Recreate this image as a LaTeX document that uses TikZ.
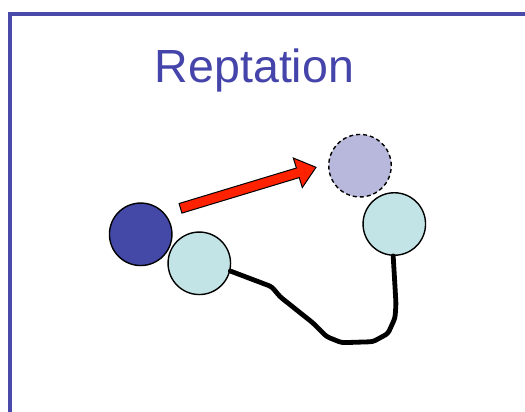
\documentclass[tikz,border=0pt]{standalone}
\usepackage{fontspec}
\setmainfont{Liberation Sans}
\definecolor{frameblue}{HTML}{4A4AAA}
\definecolor{titleblue}{HTML}{4444AA}
\definecolor{darkbead}{HTML}{4449A8}
\definecolor{cyanbead}{HTML}{C2E4E6}
\definecolor{ghostbead}{HTML}{B8B8DC}
\definecolor{arrowred}{HTML}{FF2200}
\tikzset{
  bead/.style={circle, draw=black, line width=1.4pt, minimum size=62.5pt, inner sep=0pt},
  chain/.style={line width=4.8pt, line join=round, line cap=round, rounded corners=3pt},
}
\begin{document}
\begin{tikzpicture}[x=1pt,y=-1pt]
\useasboundingbox (0,0) rectangle (525,412);
\fill[white] (0,0) rectangle (525,412);
\draw[frameblue, line width=3.8pt] (10.3,412) -- (10.3,14) -- (525,14);
\node[anchor=base, text=titleblue, font=\fontsize{46.5}{50}\selectfont, inner sep=0pt] (title) at (254.5,82.3) {Reptation};
\node[bead, fill=darkbead] (head) at (140.7,234.3) {};
\node[bead, fill=cyanbead] (b1) at (199.3,263.3) {};
\node[bead, fill=ghostbead, dashed, dash pattern=on 4pt off 3pt] (ghost) at (360,165.7) {};
\node[bead, fill=cyanbead] (b2) at (394.3,224) {};
\draw[chain] (b1.-14) -- (271.7,286.7) -- (280,296.7) -- (313,323) -- (326.7,336.7) -- (341.7,342.7) -- (373,341.7) -- (388,333.5) -- (395,318) -- (396,304) -- (b2.-92);
\draw[fill=arrowred, draw=black, line width=1pt, line join=miter]
  (179.1,203.5) -- (296.4,168.0) -- (293.3,158.0) -- (316,167.3) -- (302.3,187.6) -- (299.2,177.6) -- (181.9,213.1) -- cycle;
\end{tikzpicture}
\end{document}
